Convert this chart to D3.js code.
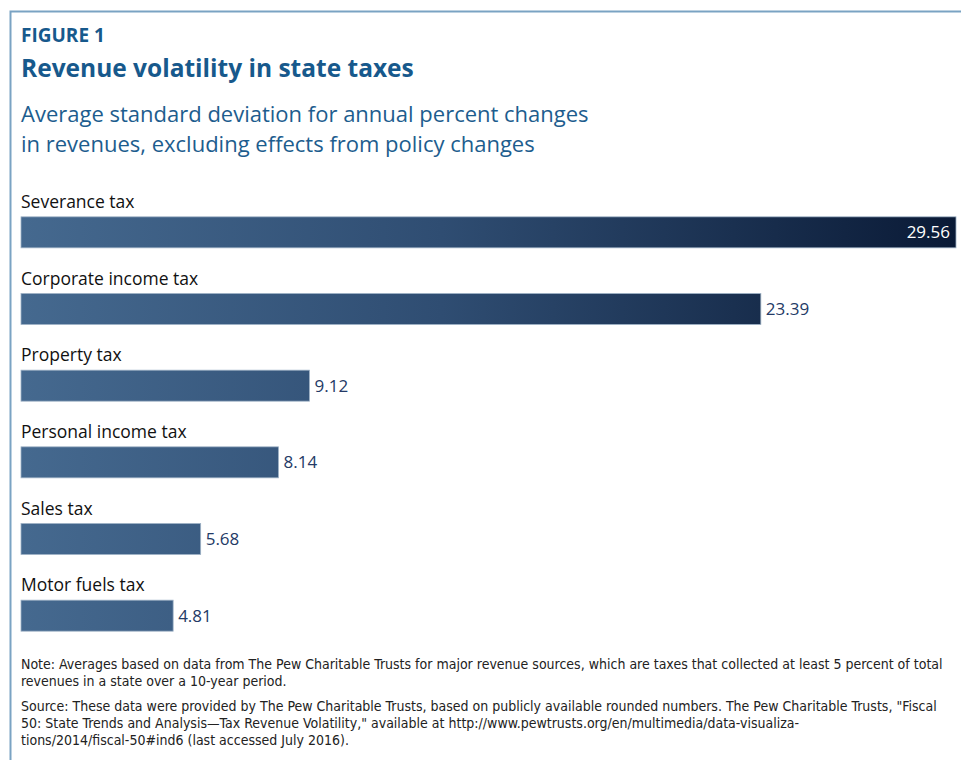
<!DOCTYPE html>
<html>
<head>
<meta charset="utf-8">
<script src="https://cdn.jsdelivr.net/npm/d3@7"></script>
<style>
  body { margin: 0; background: #fff; }
  text { font-family: "Open Sans", "Noto Sans", sans-serif; }
  .note { font-family: "Liberation Sans Narrow", "DejaVu Sans Condensed", sans-serif; font-size: 14px; fill: #222; }
</style>
</head>
<body>
<script>
var categories = ["Severance tax", "Corporate income tax", "Property tax",
                  "Personal income tax", "Sales tax", "Motor fuels tax"];
var values = [29.56, 23.39, 9.12, 8.14, 5.68, 4.81];
var notes = [
  "Note: Averages based on data from The Pew Charitable Trusts for major revenue sources, which are taxes that collected at least 5 percent of total",
  "revenues in a state over a 10-year period."
];
var sources = [
  "Source: These data were provided by The Pew Charitable Trusts, based on publicly available rounded numbers. The Pew Charitable Trusts, \"Fiscal",
  "50: State Trends and Analysis\u2014Tax Revenue Volatility,\" available at http://www.pewtrusts.org/en/multimedia/data-visualiza-",
  "tions/2014/fiscal-50#ind6 (last accessed July 2016)."
];

var width = 961, height = 763;
var margin = {left: 21, right: 5};

var svg = d3.select("body").append("svg")
  .attr("width", width)
  .attr("height", height);

// frame: top and left rule
svg.append("path")
  .attr("d", "M10.5,760 V11.5 H961")
  .attr("fill", "none")
  .attr("stroke", "#7aa3c3")
  .attr("stroke-width", 2);

svg.append("text").attr("x", 21).attr("y", 42)
  .style("font-size", "19px").style("font-weight", "bold").attr("fill", "#17598c")
  .text("FIGURE 1");
svg.append("text").attr("x", 21).attr("y", 77)
  .style("font-size", "24.5px").style("font-weight", "bold").attr("fill", "#17598c")
  .text("Revenue volatility in state taxes");
svg.append("text").attr("x", 21).attr("y", 122)
  .style("font-size", "22px").attr("fill", "#1d5d8e")
  .text("Average standard deviation for annual percent changes");
svg.append("text").attr("x", 21).attr("y", 152)
  .style("font-size", "22px").attr("fill", "#1d5d8e")
  .text("in revenues, excluding effects from policy changes");

var x = d3.scaleLinear().domain([0, values[0]]).range([margin.left, 956]);
var y = d3.scaleBand().domain(categories).range([191, 651]).paddingInner(0.6).paddingOuter(0.3);

var grad = svg.append("defs").append("linearGradient")
  .attr("id", "barGrad")
  .attr("gradientUnits", "userSpaceOnUse")
  .attr("x1", x(0)).attr("x2", x(values[0]))
  .attr("y1", 0).attr("y2", 0);
grad.append("stop").attr("offset", "0%").attr("stop-color", "#45698f");
grad.append("stop").attr("offset", "45%").attr("stop-color", "#2f4d72");
grad.append("stop").attr("offset", "100%").attr("stop-color", "#0a1a36");

var rows = svg.selectAll(".row")
  .data(categories)
  .enter().append("g")
  .attr("class", "row");

var bw = 31;
function barTop(d) { return y(d) + y.bandwidth() / 2 - bw / 2 + 3; }

rows.append("text")
  .attr("x", 21)
  .attr("y", function(d) { return barTop(d) - 9; })
  .style("font-size", "17.5px")
  .attr("fill", "#111")
  .text(function(d) { return d; });

rows.append("rect")
  .attr("x", x(0))
  .attr("y", barTop)
  .attr("width", function(d, i) { return x(values[i]) - x(0); })
  .attr("height", bw)
  .attr("fill", "url(#barGrad)")
  .attr("stroke", "#9fb2c6")
  .attr("stroke-width", 0.8);

rows.append("text")
  .attr("x", function(d, i) { return i == 0 ? x(values[i]) - 6 : x(values[i]) + 5; })
  .attr("y", function(d) { return barTop(d) + bw / 2 + 6; })
  .attr("text-anchor", function(d, i) { return i == 0 ? "end" : "start"; })
  .style("font-size", "17px")
  .attr("fill", function(d, i) { return i == 0 ? "#fff" : "#243a66"; })
  .text(function(d, i) { return values[i].toFixed(2); });

svg.selectAll(".noteline")
  .data(notes)
  .enter().append("text")
  .attr("class", "note")
  .attr("x", 21)
  .attr("y", function(d, i) { return 669 + i * 17; })
  .text(function(d) { return d; });

svg.selectAll(".srcline")
  .data(sources)
  .enter().append("text")
  .attr("class", "note")
  .attr("x", 21)
  .attr("y", function(d, i) { return 711 + i * 17; })
  .text(function(d) { return d; });
</script>
</body>
</html>
